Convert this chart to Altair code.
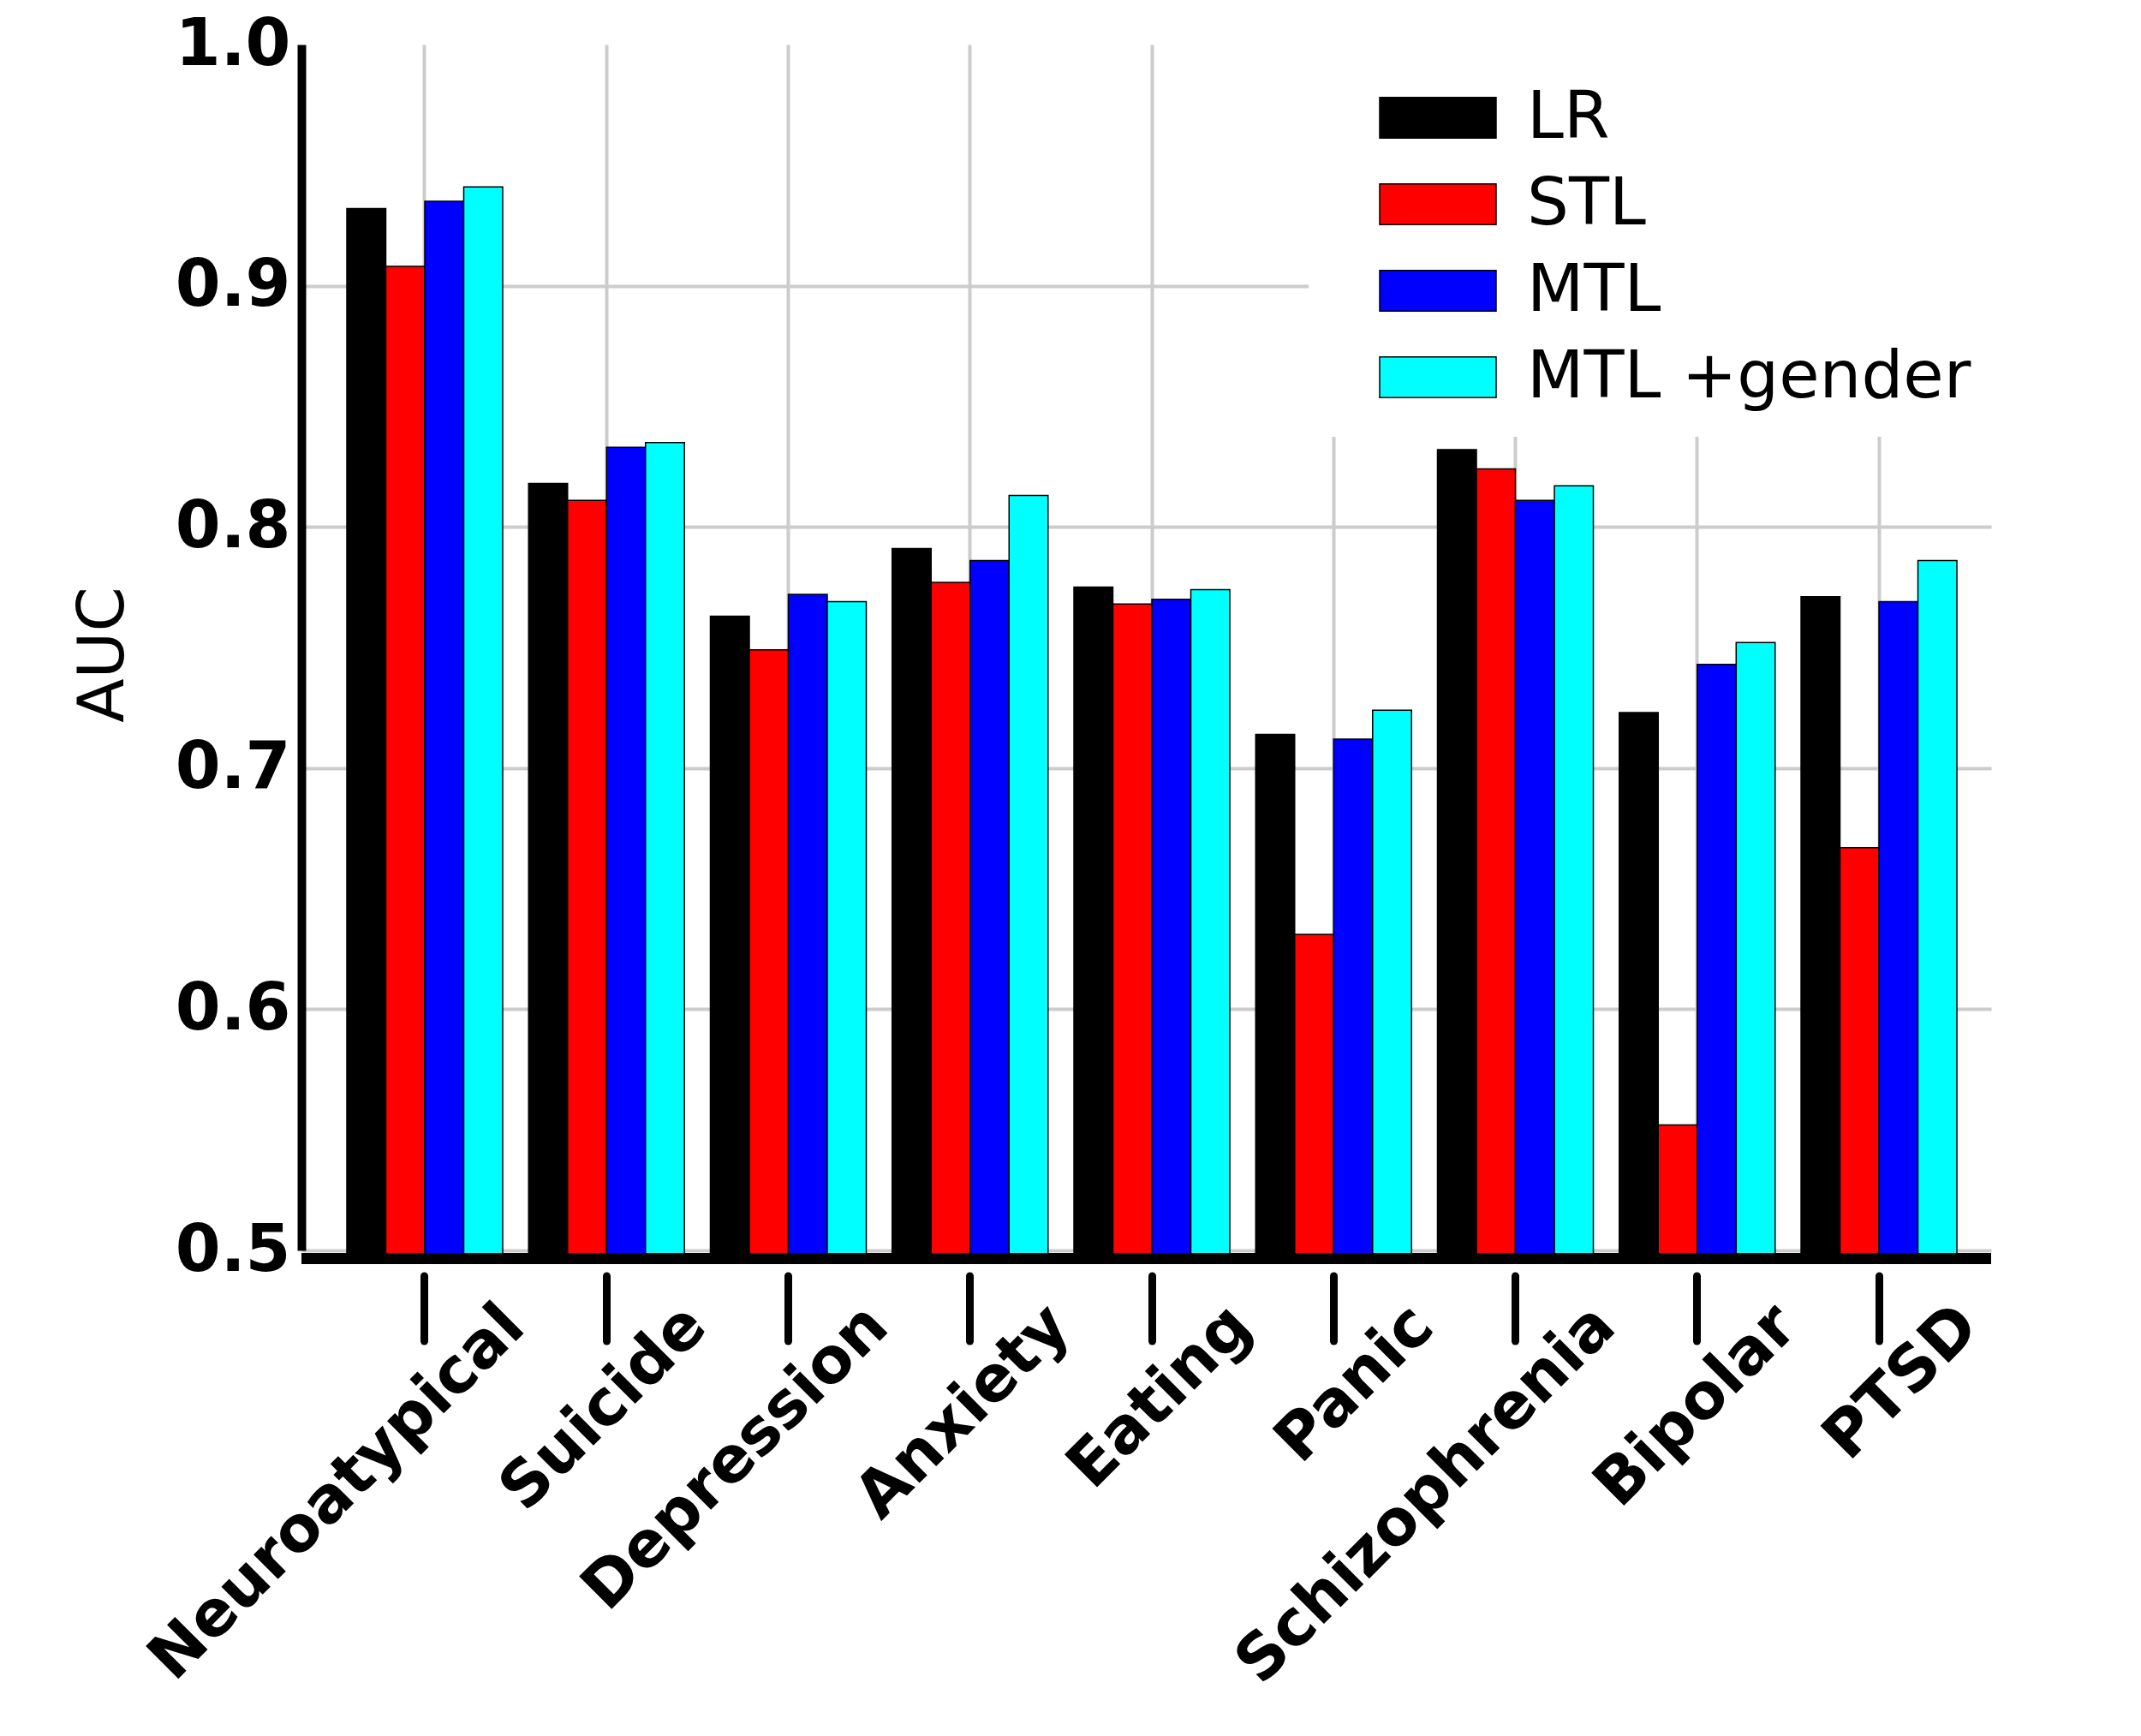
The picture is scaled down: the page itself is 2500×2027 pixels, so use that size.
import altair as alt
import pandas as pd

categories = ["Neuroatypical", "Suicide", "Depression", "Anxiety", "Eating",
              "Panic", "Schizophrenia", "Bipolar", "PTSD"]
models = ["LR", "STL", "MTL", "MTL +gender"]
colors = ["#000000", "#ff0000", "#0000ff", "#00ffff"]

lr = [0.932, 0.818, 0.763, 0.791, 0.775, 0.714, 0.832, 0.723, 0.771]
stl = [0.908, 0.811, 0.749, 0.777, 0.768, 0.631, 0.824, 0.552, 0.667]
mtl = [0.935, 0.833, 0.772, 0.786, 0.770, 0.712, 0.811, 0.743, 0.769]
mtl_gender = [0.941, 0.835, 0.769, 0.813, 0.774, 0.724, 0.817, 0.752, 0.786]

y_ticks = [0.5, 0.6, 0.7, 0.8, 0.9, 1.0]

series = {"LR": lr, "STL": stl, "MTL": mtl, "MTL +gender": mtl_gender}
rows = []
for m in models:
    for c, v in zip(categories, series[m]):
        rows.append({"category": c, "model": m, "auc": v})
df = pd.DataFrame(rows)

FONT = "DejaVu Sans"

x_enc = alt.X(
    "category:N",
    sort=categories,
    title=None,
    scale=alt.Scale(paddingInner=0.1425, paddingOuter=0.219, align=0.57),
    axis=alt.Axis(
        domain=False,
        grid=True,
        gridColor="#cccccc",
        gridWidth=4,
        ticks=True,
        tickColor="black",
        tickWidth=9,
        tickSize=76,
        tickCap="round",
        offset=29.5,
        labelAngle=315,
        labelAlign="right",
        labelBaseline="alphabetic",
        labelFont=FONT,
        labelFontWeight="bold",
        labelFontSize=74,
        labelColor="black",
        labelPadding=-13.5,
        labelOffset=120,
        labelOverlap=False,
        labelFlush=False,
        labelBound=False,
        labelLimit=2000,
    ),
)

y_scale = alt.Scale(domain=[0.5, 1.0], nice=False, zero=False)

bars = alt.Chart(df).mark_bar(stroke="black", strokeWidth=1.5, y2Offset=5).encode(
    x=x_enc,
    xOffset=alt.XOffset("model:N", sort=models,
                        scale=alt.Scale(paddingInner=0, paddingOuter=0)),
    y=alt.Y(
        "auc:Q",
        scale=y_scale,
        axis=alt.Axis(
            values=y_ticks,
            format=".1f",
            title="AUC",
            titleFont=FONT,
            titleFontWeight="normal",
            titleFontSize=75,
            titleColor="black",
            titleAngle=270,
            titleAlign="center",
            titleBaseline="bottom",
            titleX=-193,
            titleY=712,
            domain=True,
            domainColor="black",
            domainWidth=10,
            ticks=False,
            grid=True,
            gridColor={"condition": {"test": "datum.value >= 0.999", "value": "rgba(0,0,0,0)"},
                       "value": "#cccccc"},
            gridWidth=4,
            labelFont=FONT,
            labelFontWeight="bold",
            labelFontSize=76,
            labelColor="black",
            labelPadding=13,
        ),
    ),
    y2=alt.datum(0.5),
    color=alt.Color(
        "model:N",
        sort=models,
        scale=alt.Scale(domain=models, range=colors),
        legend=alt.Legend(
            title=" ",
            titleFontSize=10,
            titlePadding=23.5,
            orient="none",
            legendX=1176,
            legendY=-4,
            fillColor="white",
            padding=31,
            symbolOffset=51,
            symbolType="M-1,-0.35H1V0.35H-1Z",
            symbolSize=18496,
            symbolStrokeColor="black",
            symbolStrokeWidth=1.5,
            symbolOpacity=1,
            clipHeight=50,
            rowPadding=24,
            labelFont=FONT,
            labelFontSize=77,
            labelColor="black",
            labelOffset=35,
            labelLimit=0,
        ),
    ),
)

baseline = alt.Chart(df).mark_rule(color="black", strokeWidth=13, yOffset=9.5).encode(
    y=alt.datum(0.5)
)

chart = alt.layer(bars, baseline).properties(
    width=1973,
    height=1408,
    padding={"left": 344, "top": 44, "right": 150, "bottom": 520},
    autosize=alt.AutoSizeParams(type="none"),
    background="white",
).configure_view(stroke=None)

chart.save("out.html", embed_options={"renderer": "svg", "actions": False})
